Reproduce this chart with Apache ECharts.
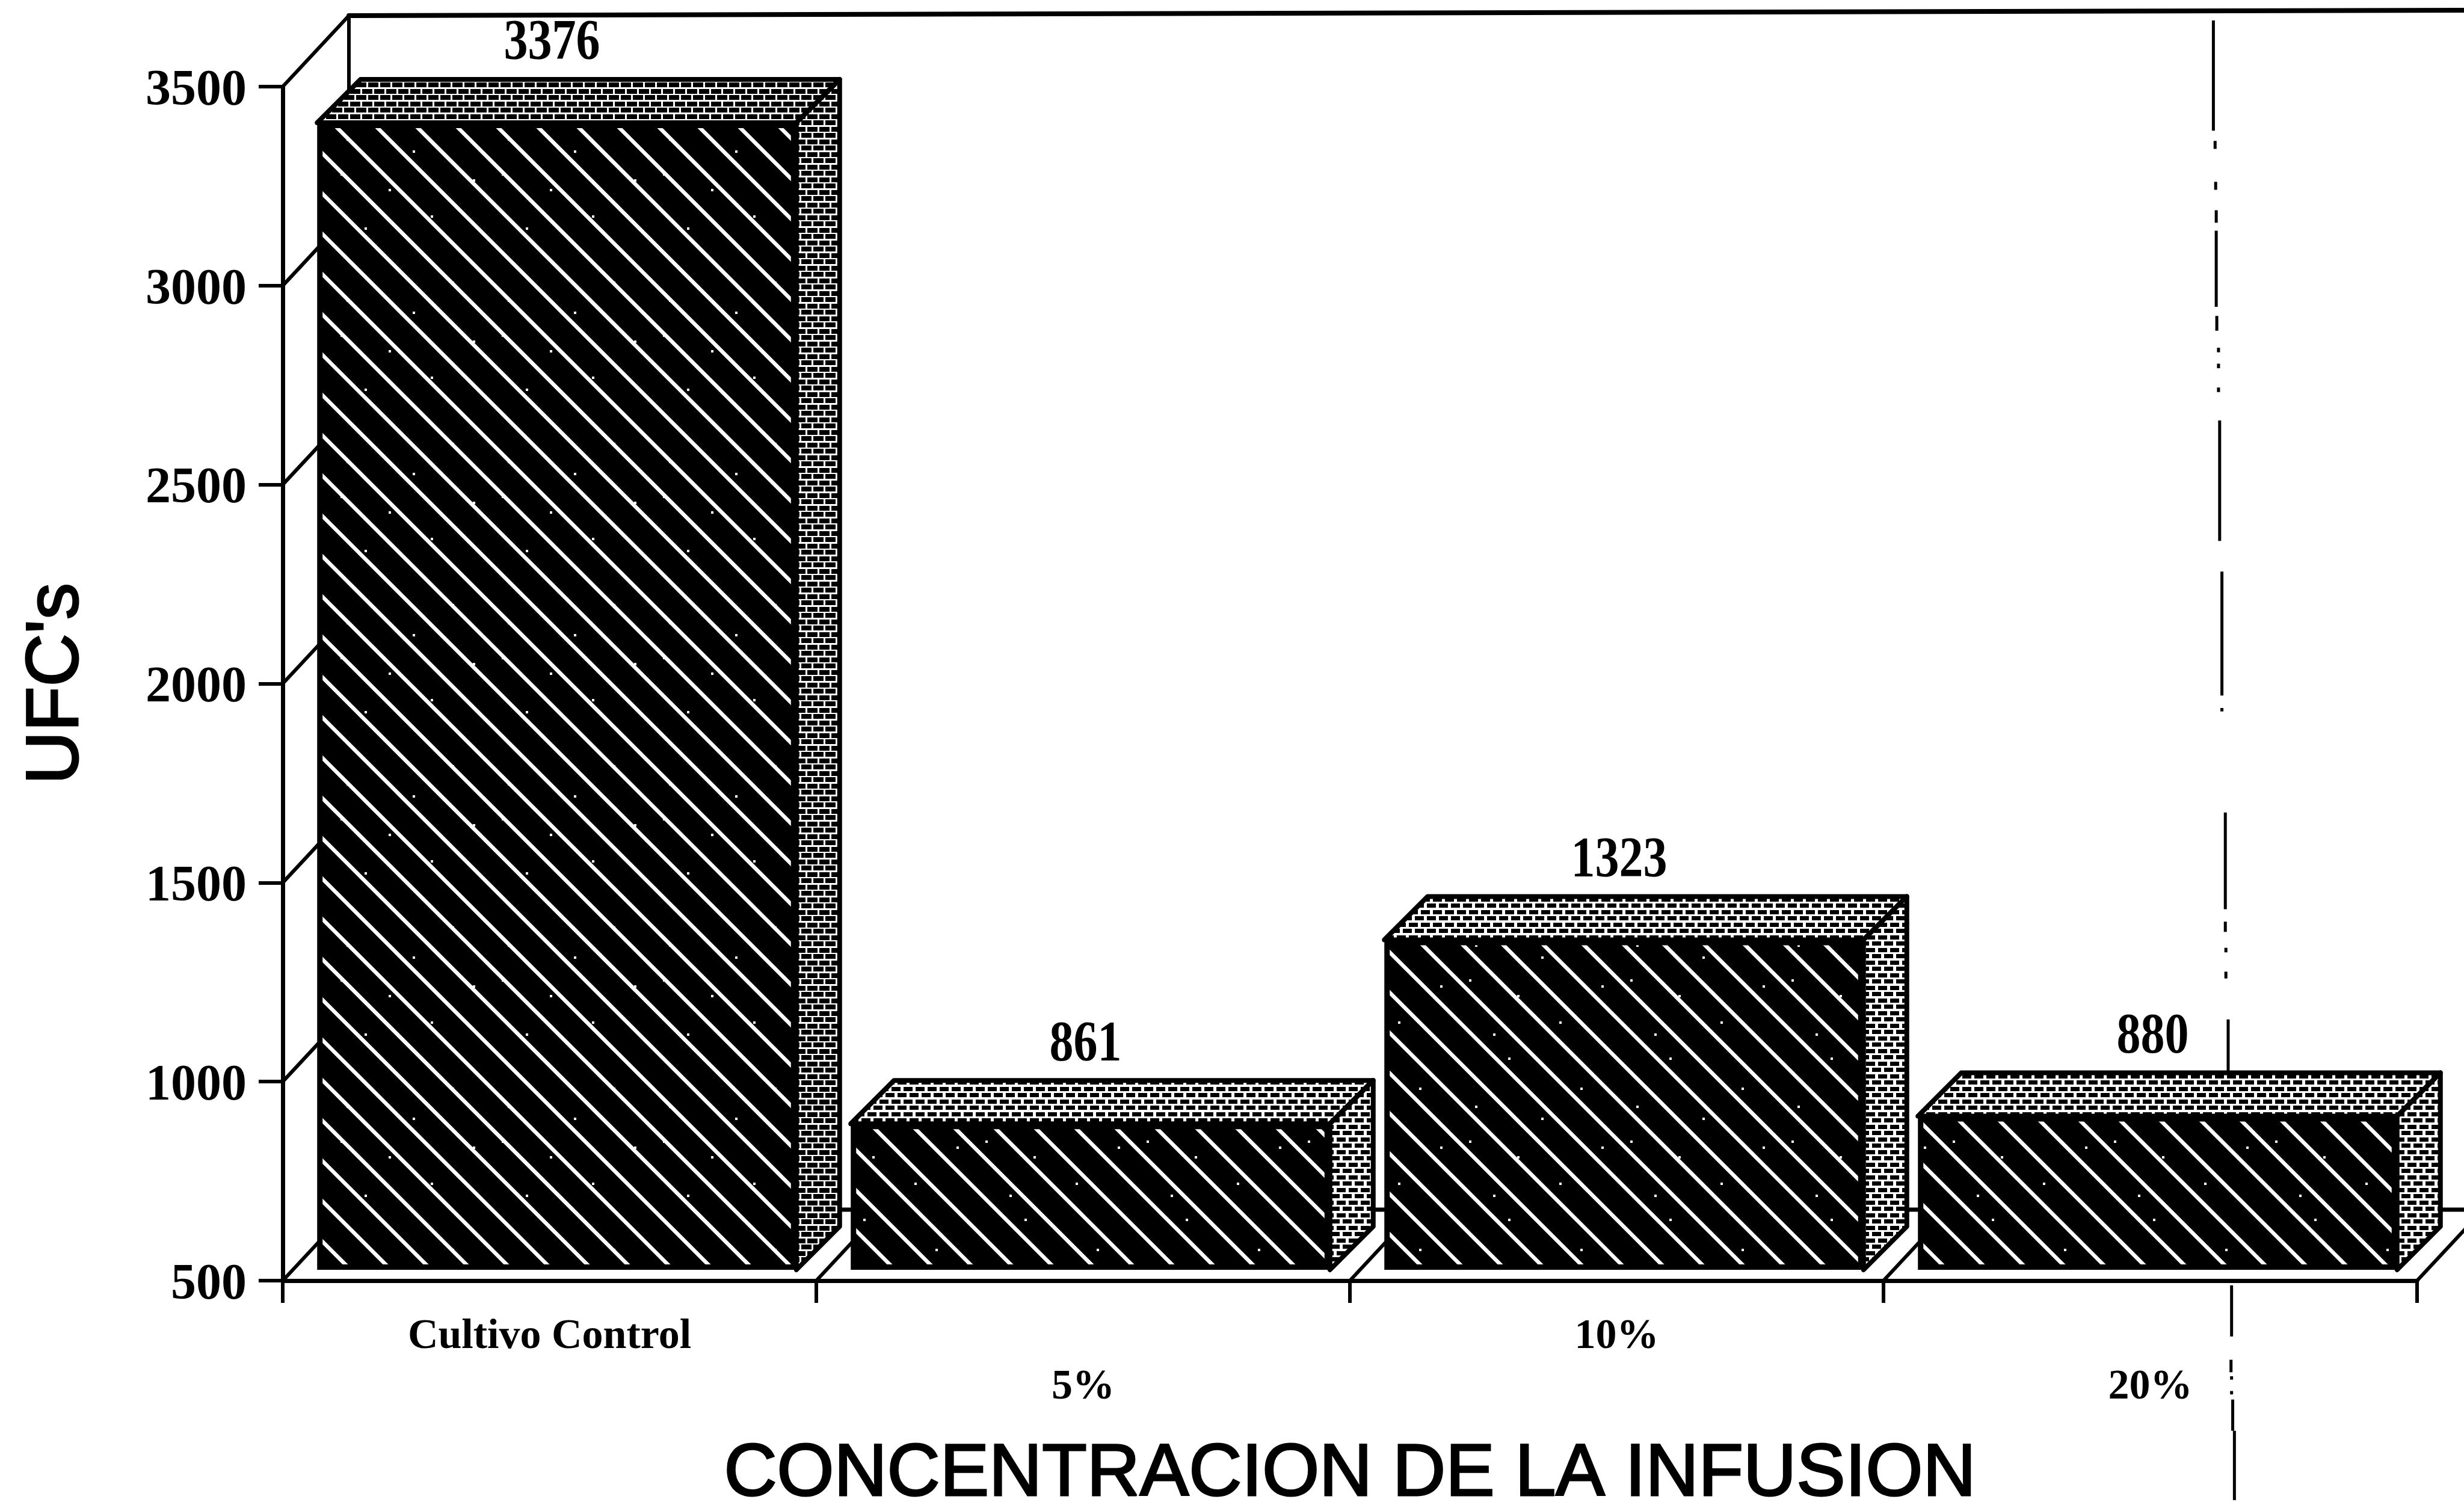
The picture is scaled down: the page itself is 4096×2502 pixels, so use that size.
<!DOCTYPE html>
<html>
<head>
<meta charset="utf-8">
<style>html,body{margin:0;padding:0;background:#fff}#c{width:4096px;height:2502px}</style>
<script src="https://cdn.jsdelivr.net/npm/echarts@6/dist/echarts.min.js"></script>
</head>
<body>
<div id="c"></div>
<script>
const categories = ['Cultivo Control', '5%', '10%', '20%'];
const values = [3376, 861, 1323, 880];
const yTicks = [500, 1000, 1500, 2000, 2500, 3000, 3500];
const yMin = 500, yMax = 3500, yStep = 500;
const xName = 'CONCENTRACION DE LA INFUSION';
const yName = "UFC's";

// layout constants, window pixels
const K = 4096 / 4336;
const WALL_DX = 110, WALL_DY = 118;
const BAR_DX = 72, BAR_DY = 72;
const BAR_SHIFT_X = 12, BAR_TOP_SHIFT = -22, BAR_BASE_SHIFT = -18, BAR_FRAC = 0.898, BAR_INSET = 9;
const HATCH_PHASE = [13, 47, 57, 54];
const BRICK = [[17, 8], [15, 7], [15, 7], [15, 7]];
const SERIF = '"Liberation Serif", serif';
const SANS = '"Liberation Sans", Arial, sans-serif';

// scan streak in the reference, full-size pixel runs [x, y0, y1]
const streak = [
  [3895,36,230],[3898,248,262],[3899,320,334],[3900,370,392],[3900,406,540],[3901,556,582],
  [3904,612,620],[3904,640,648],[3904,682,690],[3906,740,952],[3910,1006,1224],[3910,1246,1252],
  [3916,1430,1600],[3916,1622,1640],[3917,1668,1676],[3917,1710,1722],[3921,1794,1888],
  [3927,2262,2352],[3926,2393,2415],[3927,2422,2428],[3927,2448,2454],[3929,2463,2518],[3932,2518,2640]
];
const specks = [[30,20],[110,46],[95,150],[180,90],[215,200],[40,230],[150,250],[250,30],[70,110]];

function hatchTile(phase) {
  const P = 67, N = 4, S = P * N, cv = document.createElement('canvas');
  cv.width = S; cv.height = S;
  const g = cv.getContext('2d');
  g.fillStyle = '#000'; g.fillRect(0, 0, S, S);
  g.strokeStyle = '#fff'; g.lineWidth = 6.5;
  for (let o = -S; o <= S; o += P) {
    g.beginPath(); g.moveTo(o + phase - 10, -10); g.lineTo(o + phase + S + 10, S + 10); g.stroke();
  }
  g.fillStyle = '#fff';
  for (const s of specks) g.fillRect(s[0], s[1], 4, 4);
  return { image: cv, repeat: 'repeat' };
}
function stippleTile(b) {
  const W = 20, H = 21, cv = document.createElement('canvas');
  cv.width = W; cv.height = H;
  const g = cv.getContext('2d');
  g.fillStyle = '#fff'; g.fillRect(0, 0, W, H);
  g.fillStyle = '#000';
  const bw = b[0], bh = b[1];
  g.fillRect(2, 1, bw, bh);
  g.fillRect(12, 11, bw, bh);
  g.fillRect(12 - W, 11, bw, bh);
  return { image: cv, repeat: 'repeat' };
}

function line(p, q, w) {
  return { type: 'line', shape: { x1: p[0], y1: p[1], x2: q[0], y2: q[1] },
           style: { stroke: '#000', lineWidth: w || 6, lineCap: 'round' } };
}

const chart = echarts.init(document.getElementById('c'), null, { renderer: 'canvas' });

function renderWall(params, api) {
  const v = api.value(0), p = api.coord([0, v]);
  const halfBand = api.size([1, 0])[0] / 2;
  const x = p[0] - halfBand, y = p[1];
  const back = [x + WALL_DX, y - WALL_DY];
  const els = [line([x, y], back, 6)];
  if (v === yMax) {
    els.push(line(back, [api.getWidth(), back[1] - 9], 8));
    const floor = api.coord([0, yMin])[1];
    els.push(line(back, [back[0], floor - WALL_DY], 6));
    els.push(line([back[0], floor - WALL_DY], [api.getWidth(), floor - WALL_DY], 7));
  }
  return { type: 'group', children: els };
}

function renderFloor(params, api) {
  const i = api.value(0), p = api.coord([i, yMin]);
  const x = p[0] + api.size([1, 0])[0] / 2;
  return line([x, p[1]], [x + WALL_DX, p[1] - WALL_DY], 6);
}

function renderBar(params, api) {
  const i = api.value(0), v = api.value(1);
  const top = api.coord([i, v]), base = api.coord([i, yMin]);
  const w = api.size([1, 0])[0] * BAR_FRAC;
  const x0 = top[0] - w / 2 + BAR_SHIFT_X, x1 = x0 + w;
  const yT = top[1] + BAR_TOP_SHIFT, yB = base[1] + BAR_BASE_SHIFT;
  const d = BAR_DX, h = BAR_DY, n = BAR_INSET;
  const stipple = stippleTile(BRICK[i]);
  return {
    type: 'group',
    children: [
      { type: 'polygon', shape: { points: [[x0,yT],[x0+d,yT-h],[x1+d,yT-h],[x1,yT]] },
        style: { fill: stipple, stroke: '#000', lineWidth: 8, lineJoin: 'round' } },
      { type: 'polygon', shape: { points: [[x1,yT],[x1+d,yT-h],[x1+d,yB-h],[x1,yB]] },
        style: { fill: stipple, stroke: '#000', lineWidth: 8, lineJoin: 'round' } },
      { type: 'rect', shape: { x: x0, y: yT, width: w, height: yB - yT }, style: { fill: '#000' } },
      { type: 'rect', shape: { x: x0 + n, y: yT + n, width: w - 2 * n, height: yB - yT - 2 * n },
        style: { fill: hatchTile(HATCH_PHASE[i]) } },
      { type: 'text', x: (x0 + x1) / 2 - 8, y: yT - h - 58, scaleY: 1.18,
        style: { text: String(v), x: 0, y: 0, align: 'center', verticalAlign: 'middle',
                 font: 'bold 80px ' + SERIF, fill: '#000' } }
    ]
  };
}

chart.setOption({
  backgroundColor: '#fff',
  animation: false,
  grid: { left: 470, right: 78, top: 144, bottom: 373, containLabel: false, outerBoundsMode: 'none' },
  xAxis: {
    type: 'category', data: categories,
    name: xName, nameLocation: 'middle', nameGap: 262,
    nameTextStyle: { fontFamily: SANS, fontSize: 122, color: '#000', textBorderColor: '#000', textBorderWidth: 3 },
    axisLine: { show: true, lineStyle: { color: '#000', width: 7 } },
    axisTick: { show: true, length: 37, lineStyle: { color: '#000', width: 6 } },
    axisLabel: {
      interval: 0, margin: 52, color: '#000', fontFamily: SERIF, fontWeight: 'bold', fontSize: 70, lineHeight: 84,
      hideOverlap: false,
      formatter: (val, idx) => (idx % 2 ? '\n' + val : val)
    },
    splitLine: { show: false }
  },
  yAxis: {
    type: 'value', min: yMin, max: yMax, interval: yStep,
    name: yName, nameLocation: 'middle', nameGap: 314,
    nameTextStyle: { fontFamily: SANS, fontSize: 122, color: '#000', textBorderColor: '#000', textBorderWidth: 3 },
    axisLine: { show: true, onZero: false, lineStyle: { color: '#000', width: 7 } },
    axisTick: { show: true, length: 40, lineStyle: { color: '#000', width: 6 } },
    axisLabel: { margin: 60, color: '#000', fontFamily: SERIF, fontWeight: 'bold', fontSize: 84,
                 verticalAlign: 'top', lineHeight: 16, formatter: v => String(v) },
    splitLine: { show: false }
  },
  graphic: streak.map(s => ({
    type: 'line', z: 1,
    shape: { x1: s[0] * K, y1: s[1] * K, x2: s[0] * K, y2: s[2] * K },
    style: { stroke: '#000', lineWidth: 5 }
  })),
  series: [
    { type: 'custom', name: 'wall', z: 2, silent: true, data: yTicks.map(v => [v]),
      encode: { y: 0 }, renderItem: renderWall },
    { type: 'custom', name: 'floor', z: 2, silent: true, data: categories.map((c, i) => [i]),
      encode: { x: 0 }, renderItem: renderFloor },
    { type: 'custom', name: "UFC's", z: 5, silent: true, data: values.map((v, i) => [i, v]),
      encode: { x: 0, y: 1 }, renderItem: renderBar }
  ]
});
</script>
</body>
</html>
